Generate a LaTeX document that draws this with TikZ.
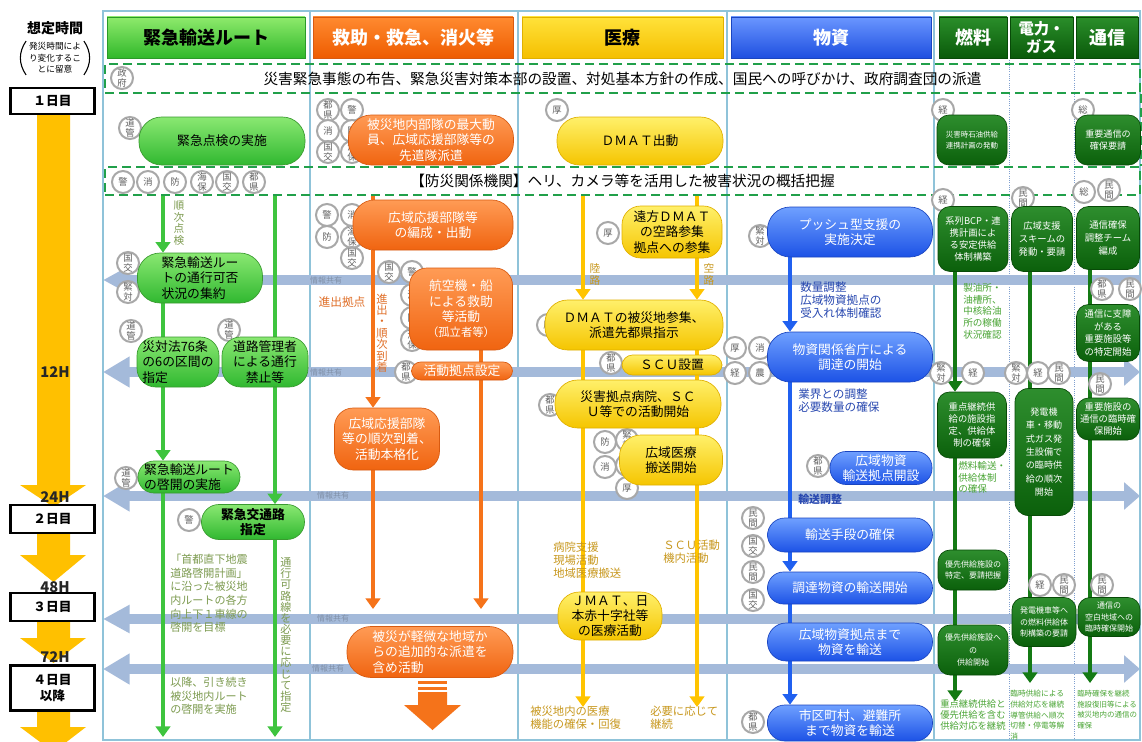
\documentclass[tikz,border=0pt]{standalone}
\usepackage{fontspec}
\setmainfont{Noto Sans CJK JP}
\usetikzlibrary{arrows.meta}
\pgfdeclarelayer{bgl}\pgfdeclarelayer{lnl}\pgfsetlayers{bgl,lnl,main}
\newcommand\fs[2]{\fontsize{#1}{#2}\selectfont}
\newcommand\agc[4]{\node[agy] (#1) at (#2,#3) {#4};}
\definecolor{frameC}{HTML}{8FC3D9}
\definecolor{dotC}{HTML}{7F9FCF}
\definecolor{bandC}{HTML}{A4BADA}
\definecolor{tlY}{HTML}{FFC000}
\definecolor{dashC}{HTML}{21A04A}
\definecolor{agD}{HTML}{A8A8A8}
\definecolor{agT}{HTML}{606060}
\definecolor{hgT}{HTML}{8EEA6C}\definecolor{hgB}{HTML}{30B82A}\definecolor{hgD}{HTML}{2A9A28}
\definecolor{hoT}{HTML}{FF8A30}\definecolor{hoB}{HTML}{EE5C00}
\definecolor{hyT}{HTML}{FFE23A}\definecolor{hyB}{HTML}{F5BF00}
\definecolor{hbT}{HTML}{6A96FF}\definecolor{hbB}{HTML}{1E4FE0}
\definecolor{hdT}{HTML}{2A8E2A}\definecolor{hdB}{HTML}{0A5A0A}
\definecolor{gT}{HTML}{8AE872}\definecolor{gB}{HTML}{30B830}\definecolor{gD}{HTML}{3A9A30}
\definecolor{oT}{HTML}{FF9B55}\definecolor{oB}{HTML}{F06410}\definecolor{oD}{HTML}{D85A10}
\definecolor{yT}{HTML}{FFF06A}\definecolor{yB}{HTML}{F5C500}\definecolor{yD}{HTML}{E0B000}
\definecolor{bT}{HTML}{6FA0FF}\definecolor{bB}{HTML}{1C52E6}\definecolor{bD}{HTML}{1A45C0}
\definecolor{dT}{HTML}{2E8E2E}\definecolor{dB}{HTML}{0B600B}\definecolor{dD}{HTML}{084A08}
\definecolor{gL}{HTML}{3EC43E}\definecolor{oL}{HTML}{F5731A}\definecolor{yL}{HTML}{FFC400}
\definecolor{bL}{HTML}{2060F0}\definecolor{dL}{HTML}{147A14}
\definecolor{olv}{HTML}{7D9B50}\definecolor{ortx}{HTML}{E0702A}\definecolor{och}{HTML}{C8981E}
\definecolor{blt}{HTML}{2848B0}\definecolor{grt}{HTML}{4AA535}\definecolor{infoC}{HTML}{8090A8}
\tikzset{
  base/.style={inner sep=0pt, align=center, font=\fs{9.6}{11.5}},
  wh/.style 2 args={minimum width=#1*0.75pt, minimum height=#2*0.75pt},
  hdrg/.style={base, top color=hgT, bottom color=hgB, draw=hgD, font=\fs{13.5}{15}\bfseries, text=black},
  hdro/.style={base, top color=hoT, bottom color=hoB, draw=oD, font=\fs{13.5}{15}\bfseries, text=white},
  hdry/.style={base, top color=hyT, bottom color=hyB, draw=yD, font=\fs{13.5}{15}\bfseries, text=black},
  hdrb/.style={base, top color=hbT, bottom color=hbB, draw=bD, font=\fs{13.5}{15}\bfseries, text=white},
  hdrd/.style={base, top color=hdT, bottom color=hdB, draw=dD, font=\fs{13.5}{15}\bfseries, text=white},
  dashbox/.style={base, draw=dashC, line width=1.6pt, dash pattern=on 7pt off 3.5pt, font=\fs{11}{13}},
  gp/.style={base, top color=gT, bottom color=gB, draw=gD, line width=0.5pt, rounded corners=#1, text=black},
  gp/.default=16pt,
  op/.style={base, top color=oT, bottom color=oB, draw=oD, line width=0.5pt, rounded corners=#1, text=white},
  op/.default=16pt,
  yp/.style={base, top color=yT, bottom color=yB, draw=yD, line width=0.5pt, rounded corners=#1, text=black},
  yp/.default=16pt,
  bp/.style={base, top color=bT, bottom color=bB, draw=bD, line width=0.5pt, rounded corners=#1, text=white},
  bp/.default=16pt,
  dg/.style={base, top color=dT, bottom color=dB, draw=dD, line width=0.5pt, rounded corners=#1, text=white, font=\fs{7}{9.2}},
  dg/.default=9pt,
  agy/.style={circle, draw=agD, line width=1.5pt, fill=white, minimum size=16.5pt, inner sep=0pt, align=center, font=\fs{7}{7.2}, text=agT},
  tbox/.style={base, draw=black, line width=2pt, fill=white, font=\fs{9.5}{11}\bfseries},
  hlab/.style={inner sep=0pt, font=\fs{11}{12}\bfseries, text=black!85},
  txt/.style={inner sep=0pt, align=left, anchor=north west},
  ln/.style={line width=3.5pt, -{Triangle[width=11pt,length=8pt]}},
  lnp/.style={line width=3.5pt},
  bandd/.style={draw=bandC, line width=7pt, {Triangle[width=22pt,length=20pt]}-{Triangle[width=20pt,length=12pt]}},
  bands/.style={draw=bandC, line width=7pt, {Triangle[width=20pt,length=20pt]}-},
  info/.style={inner sep=0pt, font=\fs{6}{6.5}, text=infoC}
}
\begin{document}
\begin{tikzpicture}[x=0.75pt,y=-0.75pt]
\useasboundingbox (0,0) rectangle (1142,742);
% ---------- background layer ----------
\begin{pgfonlayer}{bgl}
\fill[white] (0,0) rectangle (1142,742);
\draw[frameC, line width=1pt] (103,11) rectangle (1140,740);
\foreach \xx in {310,518,727,934} \draw[frameC, line width=1pt] (\xx,11) -- (\xx,740);
\foreach \xx in {1009,1074} \draw[dotC, line width=0.7pt, densely dotted] (\xx,60) -- (\xx,740);
\coordinate (BL1) at (103,280); \coordinate (BR1) at (1140,280);
\coordinate (BL2) at (103,372); \coordinate (BR2) at (1140,372);
\coordinate (BL3) at (103,496); \coordinate (BR3) at (1140,496);
\coordinate (BL4) at (103,619); \coordinate (BR4) at (1140,619);
\coordinate (BL5) at (103,669); \coordinate (BR5) at (1140,669);
\draw[bands] (BL1) -- (BR1);
\draw[bandd] (BL2) -- (BR2);
\draw[bandd] (BL3) -- (BR3);
\draw[bands] (BL4) -- (BR4);
\draw[bandd] (BL5) -- (BR5);
\end{pgfonlayer}
\node[info] (i1) at (326,280) {情報共有};
\node[info] (i2) at (326,372) {情報共有};
\node[info] (i3) at (333,495) {情報共有};
\node[info] (i4) at (333,618) {情報共有};
\node[info] (i5) at (328,668) {情報共有};
% ---------- timeline ----------
\node[inner sep=0pt, font=\fs{10.5}{12}\bfseries] (tt) at (55,28) {想定時間};
\node[inner sep=1pt, align=center, font=\fs{6.5}{8.5}] (note) at (55,58) {発災時間によ\\り変化するこ\\とに留意};
\draw[line width=0.8pt] ([xshift=-1pt]note.north west) to[bend right=35] ([xshift=-1pt]note.south west);
\draw[line width=0.8pt] ([xshift=1pt]note.north east) to[bend left=35] ([xshift=1pt]note.south east);
\fill[tlY] (37,114) -- (70,114) -- (70,485) -- (86,485) -- (53.5,507) -- (20,485) -- (37,485) -- cycle;
\fill[tlY] (37,533) -- (70,533) -- (70,555) -- (86,555) -- (53.5,582) -- (20,555) -- (37,555) -- cycle;
\fill[tlY] (37,621) -- (70,621) -- (70,638) -- (86,638) -- (53.5,663) -- (20,638) -- (37,638) -- cycle;
\fill[tlY] (37,710) -- (70,710) -- (70,727) -- (86,727) -- (53.5,752) -- (20,727) -- (37,727) -- cycle;
\node[tbox, wh={84}{26}] (tb1) at (52.5,101) {１日目};
\node[tbox, wh={84}{28}] (tb2) at (52.5,519) {２日目};
\node[tbox, wh={84}{28}] (tb3) at (52.5,607) {３日目};
\node[tbox, wh={84}{45}, font=\fs{9.5}{12}\bfseries] (tb4) at (52.5,688) {４日目\\以降};
\node[hlab] (l12) at (55,372) {12H};
\node[hlab] (l24) at (55,497) {24H};
\node[hlab] (l48) at (55,587) {48H};
\node[hlab] (l72) at (55,657) {72H};
% ---------- headers ----------
\node[hdrg, wh={198}{41}] (h1) at (206,37.5) {緊急輸送ルート};
\node[hdro, wh={200}{41}] (h2) at (413,37.5) {救助・救急、消火等};
\node[hdry, wh={201}{41}] (h3) at (622.5,37.5) {医療};
\node[hdrb, wh={200}{41}] (h4) at (831,37.5) {物資};
\node[hdrd, wh={68}{41}] (h5) at (973,37.5) {燃料};
\node[hdrd, wh={63}{41}, font=\fs{11.5}{13}\bfseries] (h6) at (1041.5,37.5) {電力・\\ガス};
\node[hdrd, wh={62}{41}] (h7) at (1107,37.5) {通信};
% ---------- dashed bands ----------
\node[dashbox, wh={1035}{29}] (dash1) at (622.5,78.5) {災害緊急事態の布告、緊急災害対策本部の設置、対処基本方針の作成、国民への呼びかけ、政府調査団の派遣};
\node[dashbox, wh={1035}{28}] (dash2) at (622.5,181) {【防災関係機関】ヘリ、カメラ等を活用した被害状況の概括把握};
\draw[dashC, line width=1.6pt, dash pattern=on 7pt off 3.5pt] (dash1.south east) -- (dash2.north east);
% ---------- agency circles ----------
\agc{a01}{122}{78}{政\\府}
\agc{a02}{130}{128}{道\\管}
\agc{a03}{328}{110}{都\\県}
\agc{a04}{328}{131}{消}
\agc{a05}{328}{152}{国\\交}
\agc{a06}{352}{110}{警}
\agc{a07}{352}{131}{防}
\agc{a08}{352}{152}{海\\保}
\agc{a09}{557}{110}{厚}
\agc{a10}{943}{110}{経}
\agc{a11}{1083}{110}{総}
\agc{a12}{123}{182}{警}
\agc{a13}{148}{182}{消}
\agc{a14}{175}{182}{防}
\agc{a15}{202}{182}{海\\保}
\agc{a16}{227}{182}{国\\交}
\agc{a17}{254}{182}{都\\県}
\agc{a18}{128}{263}{国\\交}
\agc{a19}{128}{292}{緊\\対}
\agc{a20}{131}{331}{道\\管}
\agc{a21}{229}{330}{道\\管}
\agc{a22}{126}{478}{道\\管}
\agc{a23}{189}{520}{警}
\agc{a24}{327}{215}{警}
\agc{a25}{327}{237}{防}
\agc{a26}{352}{215}{消}
\agc{a27}{352}{237}{海\\保}
\agc{a28}{352}{258}{国\\交}
\agc{a29}{389}{272}{国\\交}
\agc{a30}{412}{272}{警}
\agc{a31}{412}{295}{消}
\agc{a32}{412}{318}{防}
\agc{a33}{412}{340}{海\\保}
\agc{a34}{406}{372}{都\\県}
\agc{a35}{608}{233}{厚}
\agc{a36}{548}{325}{厚}
\agc{a37}{611}{363}{都\\県}
\agc{a38}{550}{405}{都\\県}
\agc{a39}{605}{442}{防}
\agc{a40}{605}{467}{消}
\agc{a41}{627}{440}{緊\\対}
\agc{a42}{627}{465}{都\\県}
\agc{a43}{627}{488}{厚}
\agc{a44}{760}{236}{緊\\対}
\agc{a45}{735}{348}{厚}
\agc{a46}{760}{348}{消}
\agc{a47}{735}{373}{経}
\agc{a48}{760}{373}{農}
\agc{a49}{818}{466}{都\\県}
\agc{a50}{753}{518}{民\\間}
\agc{a51}{753}{546}{国\\交}
\agc{a52}{753}{572}{民\\間}
\agc{a53}{753}{600}{国\\交}
\agc{a54}{753}{722}{都\\県}
\agc{a55}{943}{200}{経}
\agc{a56}{941}{373}{緊\\対}
\agc{a57}{973}{373}{経}
\agc{a58}{1023}{198}{民\\間}
\agc{a59}{1016}{373}{緊\\対}
\agc{a60}{1038}{373}{経}
\agc{a61}{1059}{373}{民\\間}
\agc{a62}{1040}{585}{経}
\agc{a63}{1064}{585}{民\\間}
\agc{a64}{1084}{192}{総}
\agc{a65}{1109}{190}{民\\間}
\agc{a66}{1102}{289}{都\\県}
\agc{a67}{1130}{289}{民\\間}
\agc{a68}{1100}{384}{民\\間}
\agc{a69}{1102}{585}{民\\間}
% ---------- row 1 boxes ----------
\node[gp=17pt, wh={166}{48}] (g1) at (222,141) {緊急点検の実施};
\node[op=17pt, wh={165}{50}] (o1) at (431,140) {被災地内部隊の最大動\\員、広域応援部隊等の\\先遣隊派遣};
\node[yp=17pt, wh={166}{48}] (y1) at (640,141) {ＤＭＡＴ出動};
\node[dg, wh={70}{50}, font=\fs{5.6}{8.5}] (dg1) at (972,140) {災害時石油供給\\連携計画の発動};
\node[dg, wh={65}{50}, font=\fs{6.8}{9.5}] (dg2) at (1108,140) {重要通信の\\確保要請};
% ---------- column 1 ----------
\node[gp=17pt, wh={125}{50}, align=left] (g2) at (200,278) {緊急輸送ルー\\トの通行可否\\状況の集約};
\node[gp=14pt, wh={82}{50}, align=left] (g3) at (178,362) {災対法76条\\の6の区間の\\指定};
\node[gp=14pt, wh={86}{50}] (g4) at (265,362) {道路管理者\\による通行\\禁止等};
\node[gp=12pt, wh={102}{32}, align=left] (g5) at (189,477) {緊急輸送ルート\\の啓開の実施};
\node[gp=13pt, wh={103}{35}, font=\fs{9.6}{11.5}\bfseries] (g6) at (253,522) {緊急交通路\\指定};
\node[inner sep=0pt, align=center, font=\fs{8}{8.6}, text=olv] (n4) at (179,223) {順\\次\\点\\検};
\node[txt, font=\fs{8.3}{10.2}, text=olv] (n1) at (170,554) {「首都直下地震\\道路啓開計画」\\に沿った被災地\\内ルートの各方\\向上下１車線の\\啓開を目標};
\node[inner sep=0pt, align=center, font=\fs{8.3}{8.35}, text=olv] (n2) at (286,635) {通\\行\\可\\路\\線\\を\\必\\要\\に\\応\\じ\\て\\指\\定};
\node[txt, font=\fs{8.3}{10.2}, text=olv] (n3) at (170,677) {以降、引き続き\\被災地内ルート\\の啓開を実施};
% ---------- column 2 ----------
\node[op=16pt, wh={160}{50}] (o2) at (433,225) {広域応援部隊等\\の編成・出動};
\node[op=13pt, wh={103}{82}] (o3) at (461,309) {航空機・船\\による救助\\等活動\\{\fs{8.5}{10}（孤立者等）}};
\node[op=7pt, wh={101}{18}] (o3b) at (462,371) {活動拠点設定};
\node[op=14pt, wh={105}{62}] (o4) at (387,439) {広域応援部隊\\等の順次到着、\\活動本格化};
\node[op=18pt, wh={166}{51}, align=left] (o5) at (430,652) {被災が軽微な地域か\\らの追加的な派遣を\\含め活動};
\node[inner sep=0pt, font=\fs{8.8}{10}, text=ortx] (n5) at (342,302) {進出拠点};
\node[inner sep=0pt, align=center, font=\fs{8.5}{8.55}, text=ortx] (n6) at (382,333) {進\\出\\・\\順\\次\\到\\着};
\fill[oL] (418,681) rectangle (447,684);
\fill[oL] (418,686.5) rectangle (447,689.5);
\fill[oL] (418,692) -- (447,692) -- (447,705) -- (461,705) -- (432.5,730) -- (404,705) -- (418,705) -- cycle;
% ---------- column 3 ----------
\node[yp=14pt, wh={100}{52}] (yl1) at (672,232) {遠方ＤＭＡＴ\\の空路参集\\拠点への参集};
\node[yp=17pt, wh={178}{50}] (y2) at (634,325) {ＤＭＡＴの被災地参集、\\派遣先都県指示};
\node[yp=8pt, wh={100}{20}] (y3) at (672,365) {ＳＣＵ設置};
\node[yp=17pt, wh={166}{48}] (y4) at (638,404) {災害拠点病院、ＳＣ\\Ｕ等での活動開始};
\node[yp=16pt, wh={103}{50}] (y5) at (671,460) {広域医療\\搬送開始};
\node[yp=16pt, wh={104}{48}] (y6) at (610,616) {ＪＭＡＴ、日\\本赤十字社等\\の医療活動};
\node[inner sep=0pt, align=center, font=\fs{8}{9}, text=och] (n11) at (595,274) {陸\\路};
\node[inner sep=0pt, align=center, font=\fs{8}{9}, text=och] (n12) at (709,274) {空\\路};
\node[txt, font=\fs{8.5}{9.8}, text=och] (n7) at (553,542) {病院支援\\現場活動\\地域医療搬送};
\node[txt, font=\fs{8.5}{9.8}, text=och] (n8) at (663,540) {ＳＣＵ活動\\機内活動};
\node[txt, font=\fs{8.5}{9.8}, text=och] (n9) at (530,706) {被災地内の医療\\機能の確保・回復};
\node[txt, font=\fs{8.5}{9.8}, text=och] (n10) at (650,706) {必要に応じて\\継続};
% ---------- column 4 ----------
\node[bp=17pt, wh={165}{50}] (b1) at (850,232) {プッシュ型支援の\\実施決定};
\node[bp=17pt, wh={165}{50}] (b2) at (850,357) {物資関係省庁による\\調達の開始};
\node[bp=12pt, wh={102}{33}] (b3) at (881,468) {広域物資\\輸送拠点開設};
\node[bp=13pt, wh={165}{34}] (b4) at (850,535) {輸送手段の確保};
\node[bp=12pt, wh={165}{32}] (b5) at (850,588) {調達物資の輸送開始};
\node[bp=14pt, wh={165}{38}] (b6) at (850,642) {広域物資拠点まで\\物資を輸送};
\node[bp=13pt, wh={165}{36}] (b7) at (850,723) {市区町村、避難所\\まで物資を輸送};
\node[txt, font=\fs{8.7}{9.9}, text=blt] (n13) at (800,281) {数量調整\\広域物資拠点の\\受入れ体制確認};
\node[txt, font=\fs{8.7}{9.9}, text=blt] (n14) at (798,388) {業界との調整\\必要数量の確保};
\node[txt, font=\fs{8.2}{9.9}\bfseries, text=blt] (n15) at (798,494) {輸送調整};
% ---------- column 5-7 ----------
\node[dg, wh={70}{65}] (f1) at (973,239) {系列BCP・連\\携計画によ\\る安定供給\\体制構築};
\node[dg, wh={69}{66}] (f2) at (972,425) {重点継続供\\給の施設指\\定、供給体\\制の確保};
\node[dg, wh={70}{40}, font=\fs{6}{8.5}] (f3) at (973,570) {優先供給施設の\\特定、要請把握};
\node[dg, wh={70}{50}, font=\fs{6}{9.5}] (f4) at (973,650) {優先供給施設へ\\の\\供給開始};
\node[dg, wh={61}{65}, font=\fs{7}{9.5}] (p1) at (1042,239) {広域支援\\スキームの\\発動・要請};
\node[dg=10pt, wh={58}{127}, font=\fs{6.8}{10}] (p2) at (1044,452) {発電機\\車・移動\\式ガス発\\生設備で\\の臨時供\\給の順次\\開始};
\node[dg, wh={64}{49}, font=\fs{6}{8.5}] (p3) at (1044,622) {発電機車等へ\\の燃料供給体\\制構築の要請};
\node[dg, wh={63}{63}, font=\fs{7}{9.5}] (t1) at (1108,238) {通信確保\\調整チーム\\編成};
\node[dg, wh={63}{57}, font=\fs{7}{9.5}] (t2) at (1108,333) {通信に支障\\がある\\重要施設等\\の特定開始};
\node[dg, wh={63}{42}, font=\fs{7}{9}] (t3) at (1108,419) {重要施設の\\通信の臨時確\\保開始};
\node[dg, wh={62}{39}, font=\fs{6}{8.5}] (t4) at (1109,617) {通信の\\空白地域への\\臨時確保開始};
\node[txt, font=\fs{7.2}{8.75}, text=grt] (n16) at (963,283) {製油所・\\油槽所、\\中核給油\\所の稼働\\状況確認};
\node[txt, font=\fs{7.2}{8.75}, text=grt] (n17) at (958,461) {燃料輸送・\\供給体制\\の確保};
\node[txt, font=\fs{7}{8.5}, text=grt] (n18) at (940,699) {重点継続供給と\\優先供給を含む\\供給対応を継続};
\node[txt, font=\fs{5.8}{8}, text=grt] (n19) at (1010,690) {臨時供給による\\供給対応を継続\\導管供給へ順次\\切替・停電等解\\消};
\node[txt, font=\fs{5.6}{8}, text=grt] (n20) at (1077,690) {臨時確保を継続\\施設復旧等による\\被災地内の通信の\\確保};
% ---------- connectors ----------
\coordinate (X1) at (163,0); \coordinate (X2) at (275,0);
\coordinate (X3) at (373,0); \coordinate (X4) at (481,0);
\coordinate (X5) at (583,0); \coordinate (X6) at (697,0);
\coordinate (X7) at (790,0); \coordinate (X8) at (955,0);
\coordinate (X9) at (1030,0); \coordinate (X10) at (1090,0);
\coordinate (E1) at (0,737); \coordinate (E2) at (0,609);
\coordinate (E3) at (0,707); \coordinate (E4) at (0,701);
\coordinate (E5) at (0,683);
\begin{pgfonlayer}{lnl}
\draw[ln, draw=gL] (X1 |- dash2.south) -- (X1 |- g2.north);
\draw[ln, draw=gL] (X1 |- g2.south) -- (X1 |- g5.north);
\draw[ln, draw=gL] (X1 |- g5.south) -- (X1 |- E1);
\draw[ln, draw=gL] (X2 |- dash2.south) -- (X2 |- g6.north);
\draw[ln, draw=gL] (X2 |- g6.south) -- (X2 |- E1);
\draw[lnp, draw=oL] (X3 |- dash2.south) -- (X3 |- o2.north);
\draw[ln, draw=oL] (X3 |- o2.south) -- (X3 |- o4.north);
\draw[ln, draw=oL] (X3 |- o4.south) -- (X3 |- E2);
\draw[ln, draw=oL] (X4 |- o3.south) -- (X4 |- E2);
\draw[ln, draw=yL] (X5 |- dash2.south) -- (X5 |- y2.north);
\draw[ln, draw=yL] (X5 |- y2.south) -- (X5 |- E3);
\draw[lnp, draw=yL] (X6 |- dash2.south) -- (X6 |- yl1.north);
\draw[ln, draw=yL] (X6 |- yl1.south) -- (X6 |- y2.north);
\draw[ln, draw=yL] (X6 |- y2.south) -- (X6 |- E3);
\draw[ln, draw=bL] (X7 |- b1.south) -- (X7 |- b2.north);
\draw[ln, draw=bL] (X7 |- b2.south) -- (X7 |- b5.north);
\draw[ln, draw=bL] (X7 |- b5.south) -- (X7 |- b7.north);
\draw[ln, draw=dL] (X8 |- f1.south) -- (X8 |- f2.north);
\draw[ln, draw=dL] (X8 |- f2.south) -- (X8 |- E4);
\draw[lnp, draw=dL] (X9 |- p1.south) -- (X9 |- p2.north);
\draw[ln, draw=dL] (X9 |- p2.south) -- (X9 |- E5);
\draw[ln, draw=dL] (X10 |- t1.south) -- (X10 |- E5);
\end{pgfonlayer}
\end{tikzpicture}
\end{document}
